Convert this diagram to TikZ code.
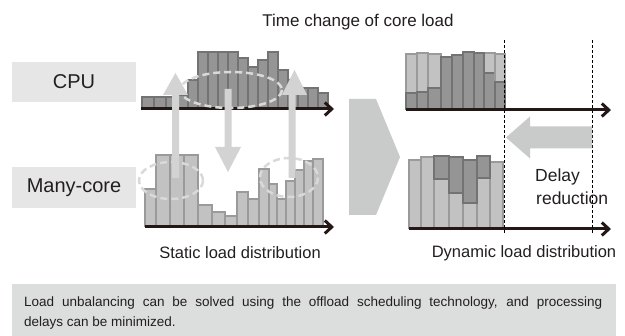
\documentclass[tikz,border=0pt]{standalone}
\usepackage{fontspec}
\setmainfont{Liberation Sans}
\usetikzlibrary{arrows.meta}
\definecolor{txt}{HTML}{231F20}
\definecolor{axiscol}{HTML}{231815}
\definecolor{labelbg}{HTML}{E6E6E6}
\definecolor{capbg}{HTML}{DCDDDD}
\definecolor{bigarrow}{HTML}{C9CACA}
\definecolor{vertarrow}{HTML}{D3D3D3}
\definecolor{ellcol}{HTML}{D9D9D9}
\definecolor{darkfill}{HTML}{959595}
\definecolor{darkline}{HTML}{737373}
\definecolor{lightfill}{HTML}{C2C2C2}
\definecolor{lightline}{HTML}{9A9A9A}
\begin{document}
\begin{tikzpicture}[x=1pt,y=-1pt,
  dbar/.style={fill=darkfill,draw=darkline,line width=1.5pt},
  lbar/.style={fill=lightfill,draw=lightline,line width=1.5pt},
  axisline/.style={draw=axiscol,line width=3pt,-{Straight Barb[length=7pt,width=13pt]}},
  labelbox/.style={fill=labelbg,draw=none},
  bigtext/.style={text=txt,font=\fontsize{20}{23}\selectfont,inner sep=0pt},
  midtext/.style={text=txt,font=\fontsize{16.5}{20}\selectfont,inner sep=0pt},
  sidetext/.style={text=txt,font=\fontsize{17.5}{20}\selectfont,inner sep=0pt,anchor=west},
  captext/.style={text=txt,font=\fontsize{13.5}{16}\selectfont,inner sep=0pt,anchor=west},
  ellstyle/.style={draw=ellcol,line width=2.5pt,dash pattern=on 7pt off 4pt},
  vline/.style={draw=black,line width=0.8pt,dash pattern=on 3pt off 2pt},
  garrow/.style={fill=vertarrow,draw=none},
  barrow/.style={fill=bigarrow,draw=none}]
\useasboundingbox (0,0) rectangle (625,336);
\fill[white] (0,0) rectangle (625,336);

% title
\node[midtext,font=\fontsize{17}{20}\selectfont] (title) at (358,22) {Time change of core load};

% label boxes
\fill[labelbox] (12,62) rectangle (136,102);
\node[bigtext] (cpu) at (74,82) {CPU};
\fill[labelbox] (12,167) rectangle (136,208);
\node[bigtext] (many) at (74,188) {Many-core};

% static CPU bars
\foreach \l/\r/\t in {142/154/97,154/166/97,166/178/97,178/188/95,188/198/80,198/208/52,208/218/52,218/228/52,228/238/52,238/248/58,248/258/67,258/268/60,268/278/52,278/288/70,288/298/80,298/308/88,308/318/88,318/328/93}
  \draw[dbar] (\l,\t) rectangle (\r,109);

% static many-core bars
\foreach \l/\r/\t in {145/156/189,156/170/155,170/184/155,184/198/155,198/212/205,212/225/212,225/237/216,237/248/192,248/259/199,259/269/169,269/277/184,277/286/199,286/295/181,295/304/170,304/313/161,313/323/159}
  \draw[lbar] (\l,\t) rectangle (\r,226);

% dynamic CPU bars: light top part, dark lower part
\foreach \l/\r/\t/\s in {406/417/54/93,417/428/53/92,428/441/54/88,484/495/53/73,495/505/54/82}
  {\draw[lbar] (\l,\t) rectangle (\r,\s);
   \draw[dbar] (\l,\s) rectangle (\r,109);}
\foreach \l/\r/\t in {441/452/57,452/463/55,463/474/52,474/484/53}
  \draw[dbar] (\l,\t) rectangle (\r,109);

% dynamic many-core bars
\foreach \l/\r/\t in {409/421/160,421/434/157,434/449/156,449/463/157,463/477/160,477/490/156,490/503/162}
  \draw[lbar] (\l,\t) rectangle (\r,228);
\foreach \l/\r/\t/\s in {434/449/156/179,449/463/157/193,463/477/160/203,477/490/156/178}
  \draw[dbar] (\l,\t) rectangle (\r,\s);

% axes
\coordinate (a1s) at (141,109); \coordinate (a1e) at (334,109);
\coordinate (a2s) at (145,227); \coordinate (a2e) at (334,227);
\coordinate (a3s) at (406,110); \coordinate (a3e) at (611,110);
\coordinate (a4s) at (409,229); \coordinate (a4e) at (611,229);
\draw[axisline] (a1s) -- (a1e);
\draw[axisline] (a2s) -- (a2e);
\draw[axisline] (a3s) -- (a3e);
\draw[axisline] (a4s) -- (a4e);

% dashed ellipses
\draw[ellstyle] (231,90) ellipse [x radius=51, y radius=18];
\draw[ellstyle] (171,180.5) ellipse [x radius=32, y radius=18.5];
\draw[ellstyle] (289,177.5) ellipse [x radius=29, y radius=19.5];

% vertical gray arrows
\fill[garrow] (172,178) -- (172,95) -- (163,95) -- (175.5,73) -- (188,95) -- (179,95) -- (179,178) -- cycle;
\fill[garrow] (224.5,89) -- (224.5,147) -- (215,147) -- (228,172) -- (241,147) -- (231.5,147) -- (231.5,89) -- cycle;
\fill[garrow] (288.5,178) -- (288.5,95) -- (282,95) -- (294.5,70) -- (307,95) -- (295.5,95) -- (295.5,178) -- cycle;

% big chevron arrow
\fill[barrow] (349,99) -- (376,99) -- (400,157) -- (376,215) -- (349,215) -- cycle;

% dashed vertical lines
\coordinate (v1t) at (504,40); \coordinate (v1b) at (504,233);
\coordinate (v2t) at (592,40); \coordinate (v2b) at (592,233);
\draw[vline] (v1t) -- (v1b);
\draw[vline] (v2t) -- (v2b);

% delay reduction arrow
\fill[barrow] (506,137.5) -- (530,116.5) -- (530,126.5) -- (592,126.5) -- (592,148.5) -- (530,148.5) -- (530,158.5) -- cycle;
\node[sidetext] (delay) at (535,177) {Delay};
\node[sidetext] (red) at (536,198) {reduction};

% bottom labels
\node[midtext] (static) at (240,253) {Static load distribution};
\node[midtext] (dynamic) at (524,253) {Dynamic load distribution};

% caption
\fill[capbg] (12,284) rectangle (616,336);
\node[captext] (cap1) at (24,303) {\makebox[578pt][s]{Load unbalancing can be solved using the offload scheduling technology, and processing}};
\node[captext] (cap2) at (24,323) {delays can be minimized.};
\end{tikzpicture}
\end{document}
